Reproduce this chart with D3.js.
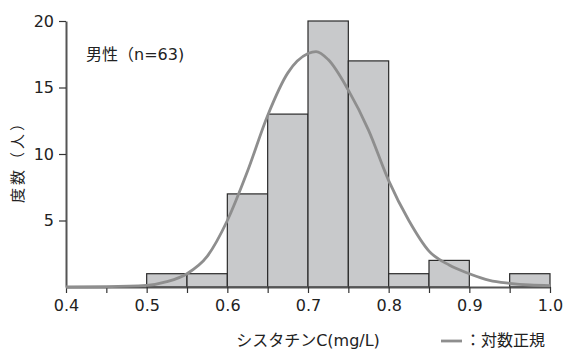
<!DOCTYPE html>
<html>
<head>
<meta charset="utf-8">
<script src="https://cdn.jsdelivr.net/npm/d3@7"></script>
<style>
  body { margin: 0; background: #fff; }
</style>
</head>
<body>
<svg id="chart" width="563" height="352"></svg>
<script>
// histogram bins (lower edge) and counts
const binStarts = [0.40, 0.45, 0.50, 0.55, 0.60, 0.65, 0.70, 0.75, 0.80, 0.85, 0.90, 0.95];
const counts = [0, 0, 1, 1, 7, 13, 20, 17, 1, 2, 0, 1];
const binWidth = 0.05;

// fitted log-normal curve
const curveX = [0.40, 0.45, 0.50, 0.525, 0.55, 0.575, 0.60, 0.625, 0.65, 0.675, 0.70, 0.71, 0.725, 0.75, 0.775, 0.80, 0.825, 0.85, 0.875, 0.90, 0.925, 0.95, 0.975, 1.00];
const curveY = [0.0, 0.02, 0.12, 0.4, 1.0, 2.3, 5.0, 8.7, 12.9, 16.1, 17.55, 17.7, 17.1, 14.8, 11.8, 8.0, 5.0, 2.7, 1.65, 1.0, 0.5, 0.28, 0.15, 0.1];

const yTicks = [5, 10, 15, 20];

const FONT = '"DejaVu Sans", "Noto Sans CJK JP", sans-serif';
const svg = d3.select('#chart')
  .attr('font-family', FONT)
  .attr('font-size', 16);
const margin = { top: 21, right: 13, bottom: 65, left: 66 };
const width = 563, height = 352;
const innerWidth = width - margin.left - margin.right;
const innerHeight = height - margin.top - margin.bottom;

const x = d3.scaleLinear().domain([0.4, 1.0]).range([0, innerWidth]);
const y = d3.scaleLinear().domain([0, 20]).range([innerHeight, 0]);

const g = svg.append('g')
  .attr('transform', 'translate(' + margin.left + ',' + margin.top + ')');

// bars
g.selectAll('.bar')
  .data(binStarts.map((b, i) => ({ b, c: counts[i] })).filter(d => d.c > 0))
  .enter()
  .append('rect')
  .attr('class', 'bar')
  .attr('x', d => x(d.b))
  .attr('y', d => y(d.c))
  .attr('width', x(0.4 + binWidth) - x(0.4))
  .attr('height', d => innerHeight - y(d.c))
  .attr('fill', '#c8c9cb')
  .attr('stroke', '#2a2a2a')
  .attr('stroke-width', 1.2);

// x axis
const xAxis = g.append('g')
  .attr('transform', 'translate(0,' + innerHeight + ')')
  .call(d3.axisBottom(x)
    .tickValues(d3.range(0, 13).map(i => 0.4 + i * 0.05))
    .tickSize(6)
    .tickSizeOuter(0)
    .tickFormat(d => {
      const r = Math.round(d * 100);
      return r % 10 === 0 ? (r / 100).toFixed(1) : '';
    }))
  .attr('font-family', FONT)
  .attr('font-size', 16);
xAxis.select('.domain').attr('stroke', '#555').attr('stroke-width', 2);
xAxis.selectAll('.tick line').attr('stroke', '#333').attr('stroke-width', 1.2);
xAxis.selectAll('.tick text')
  .filter(function () { return this.textContent === ''; })
  .remove();
xAxis.selectAll('.tick text')
  .attr('dy', '0.95em')
  .attr('fill', '#222');

// y axis
const yAxis = g.append('g')
  .call(d3.axisLeft(y).tickValues(yTicks).tickSize(7).tickSizeOuter(0))
  .attr('font-family', FONT)
  .attr('font-size', 16);
yAxis.select('.domain').attr('stroke', '#555').attr('stroke-width', 2);
yAxis.selectAll('.tick line').attr('stroke', '#333').attr('stroke-width', 1.2);
yAxis.selectAll('.tick text')
  .attr('x', -12)
  .attr('fill', '#222');

// curve
const line = d3.line()
  .x((d, i) => x(curveX[i]))
  .y(d => y(d))
  .curve(d3.curveMonotoneX);
g.append('path')
  .datum(curveY)
  .attr('fill', 'none')
  .attr('stroke', '#8e8e8e')
  .attr('stroke-width', 2.8)
  .attr('d', line);

// labels
g.append('text')
  .attr('x', 20)
  .attr('y', 39)
  .attr('fill', '#222')
  .text('男性（n=63)');

svg.append('text')
  .attr('transform', 'translate(23,' + 158 + ') rotate(-90)')
  .attr('text-anchor', 'middle')
  .attr('font-size', 15)
  .attr('letter-spacing', 3)
  .attr('fill', '#222')
  .text('度数（人）');

svg.append('text')
  .attr('x', 308)
  .attr('y', 346)
  .attr('text-anchor', 'middle')
  .attr('fill', '#222')
  .text('シスタチンC(mg/L)');

// legend
svg.append('line')
  .attr('x1', 441).attr('x2', 462)
  .attr('y1', 341).attr('y2', 341)
  .attr('stroke', '#8e8e8e')
  .attr('stroke-width', 2.8);
svg.append('text')
  .attr('x', 465)
  .attr('y', 346)
  .attr('fill', '#222')
  .text('：対数正規');
</script>
</body>
</html>
